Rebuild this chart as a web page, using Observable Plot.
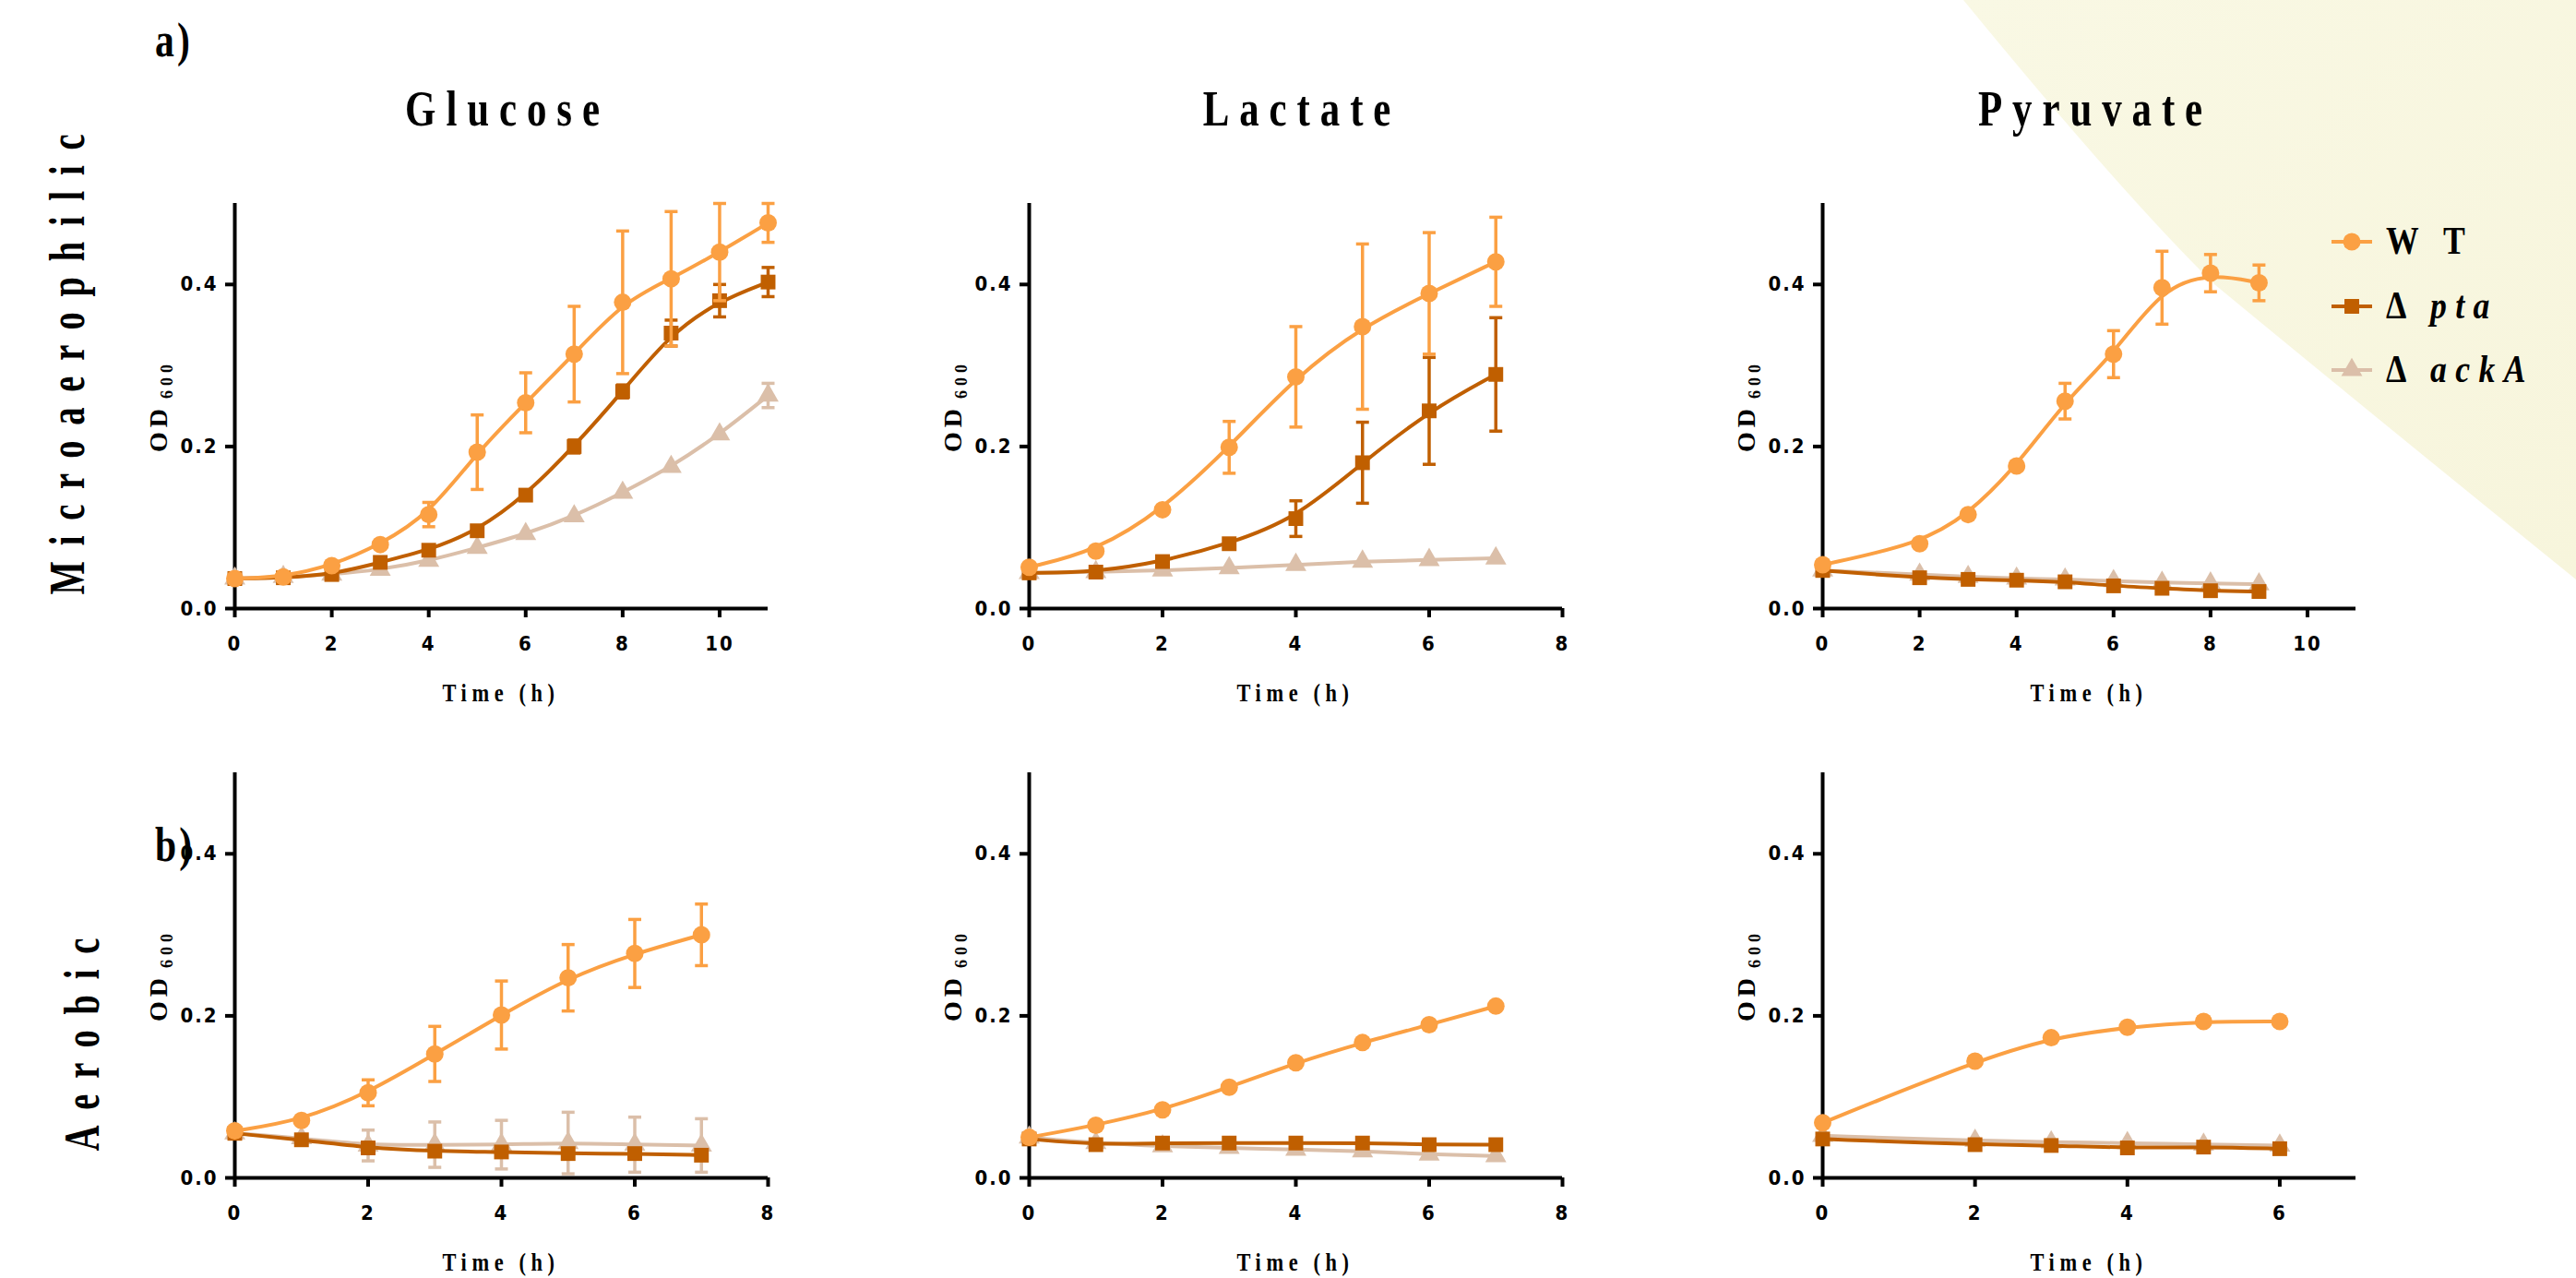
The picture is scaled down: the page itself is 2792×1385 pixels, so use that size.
<!DOCTYPE html>
<html>
<head>
<meta charset="utf-8">
<script src="https://cdn.jsdelivr.net/npm/d3@7"></script>
<script src="https://cdn.jsdelivr.net/npm/@observablehq/plot@0.6"></script>
<style>
html, body { margin: 0; padding: 0; background: #fff; }
#page { position: relative; width: 2792px; height: 1385px; overflow: hidden; background: #fff; }
.abs { position: absolute; white-space: nowrap; color: #000; }
.serif { font-family: "Liberation Serif", "Times New Roman", serif; font-weight: bold; }
</style>
</head>
<body>
<div id="page"></div>
<script>
// ---------------- DATA ----------------
const carbonSources = ["Glucose", "Lactate", "Pyruvate"];
const conditions = ["Microaerophilic", "Aerobic"];
const panelLetters = ["a)", "b)"];
const seriesKeys = ["WT", "pta", "ackA"];
const seriesColors = ["#fba043", "#c05f00", "#dbbfa9"];
const seriesSymbols = ["circle", "square", "triangle"];
const yTicks = [0, 0.2, 0.4];

// Microaerophilic - Glucose
const tGluMicro = [0, 1, 2, 3, 4, 5, 6, 7, 8, 9, 10, 11];
const wtGluMicro = [0.037, 0.039, 0.053, 0.079, 0.116, 0.193, 0.254, 0.314, 0.378, 0.407, 0.440, 0.476];
const wtGluMicroErr = [0, 0, 0, 0, 0.015, 0.046, 0.037, 0.059, 0.088, 0.083, 0.060, 0.024];
const ptaGluMicro = [0.037, 0.038, 0.042, 0.057, 0.072, 0.096, 0.140, 0.200, 0.268, 0.340, 0.380, 0.403];
const ptaGluMicroErr = [0, 0, 0, 0, 0, 0, 0, 0.008, 0.008, 0.016, 0.020, 0.018];
const ackGluMicro = [0.037, 0.039, 0.042, 0.048, 0.059, 0.075, 0.092, 0.114, 0.143, 0.175, 0.215, 0.263];
const ackGluMicroErr = [0, 0, 0, 0, 0, 0, 0, 0, 0, 0, 0, 0.015];

// Microaerophilic - Lactate
const tLacMicro = [0, 1, 2, 3, 4, 5, 6, 7];
const wtLacMicro = [0.051, 0.071, 0.122, 0.199, 0.286, 0.348, 0.389, 0.428];
const wtLacMicroErr = [0, 0, 0, 0.032, 0.062, 0.102, 0.075, 0.055];
const ptaLacMicro = [0.044, 0.045, 0.058, 0.080, 0.111, 0.180, 0.244, 0.289];
const ptaLacMicroErr = [0, 0, 0, 0, 0.022, 0.050, 0.066, 0.070];
const ackLacMicro = [0.044, 0.045, 0.047, 0.050, 0.054, 0.058, 0.060, 0.062];
const ackLacMicroErr = [0, 0, 0, 0, 0, 0, 0, 0];

// Microaerophilic - Pyruvate
const tPyrMicro = [0, 2, 3, 4, 5, 6, 7, 8, 9];
const wtPyrMicro = [0.054, 0.080, 0.116, 0.176, 0.256, 0.314, 0.396, 0.414, 0.402];
const wtPyrMicroErr = [0, 0, 0, 0, 0.022, 0.029, 0.045, 0.023, 0.022];
const ptaPyrMicro = [0.047, 0.038, 0.036, 0.035, 0.033, 0.028, 0.025, 0.022, 0.021];
const ptaPyrMicroErr = [0, 0, 0, 0, 0, 0, 0, 0, 0];
const ackPyrMicro = [0.047, 0.042, 0.039, 0.037, 0.036, 0.034, 0.032, 0.031, 0.030];
const ackPyrMicroErr = [0, 0, 0, 0, 0, 0, 0, 0, 0];

// Aerobic - Glucose
const tGluAer = [0, 1, 2, 3, 4, 5, 6, 7];
const wtGluAer = [0.058, 0.071, 0.105, 0.153, 0.201, 0.247, 0.277, 0.300];
const wtGluAerErr = [0, 0, 0.016, 0.034, 0.042, 0.041, 0.042, 0.038];
const ptaGluAer = [0.055, 0.047, 0.037, 0.033, 0.032, 0.030, 0.030, 0.028];
const ptaGluAerErr = [0, 0, 0, 0, 0, 0, 0, 0];
const ackGluAer = [0.055, 0.049, 0.040, 0.041, 0.041, 0.043, 0.041, 0.040];
const ackGluAerErr = [0, 0, 0.019, 0.028, 0.030, 0.038, 0.034, 0.033];

// Aerobic - Lactate
const tLacAer = [0, 1, 2, 3, 4, 5, 6, 7];
const wtLacAer = [0.050, 0.065, 0.084, 0.112, 0.142, 0.167, 0.189, 0.212];
const wtLacAerErr = [0, 0, 0, 0, 0, 0, 0, 0];
const ptaLacAer = [0.048, 0.041, 0.043, 0.043, 0.043, 0.043, 0.041, 0.041];
const ptaLacAerErr = [0, 0, 0, 0, 0, 0, 0, 0];
const ackLacAer = [0.050, 0.043, 0.039, 0.037, 0.035, 0.033, 0.029, 0.027];
const ackLacAerErr = [0, 0, 0, 0, 0, 0, 0, 0];

// Aerobic - Pyruvate
const tPyrAer = [0, 2, 3, 4, 5, 6];
const wtPyrAer = [0.068, 0.144, 0.173, 0.186, 0.193, 0.193];
const wtPyrAerErr = [0, 0, 0, 0, 0, 0];
const ptaPyrAer = [0.048, 0.041, 0.040, 0.037, 0.038, 0.036];
const ptaPyrAerErr = [0, 0, 0, 0, 0, 0];
const ackPyrAer = [0.052, 0.046, 0.044, 0.043, 0.041, 0.040];
const ackPyrAerErr = [0, 0, 0, 0, 0, 0];

const xMaxes = [[11, 8, 11], [8, 8, 7]];
const xTickSets = [[[0, 2, 4, 6, 8, 10], [0, 2, 4, 6, 8], [0, 2, 4, 6, 8, 10]],
                   [[0, 2, 4, 6, 8], [0, 2, 4, 6, 8], [0, 2, 4, 6]]];

const panels = [
  {row: 0, col: 0, t: tGluMicro, y: [wtGluMicro, ptaGluMicro, ackGluMicro], e: [wtGluMicroErr, ptaGluMicroErr, ackGluMicroErr]},
  {row: 0, col: 1, t: tLacMicro, y: [wtLacMicro, ptaLacMicro, ackLacMicro], e: [wtLacMicroErr, ptaLacMicroErr, ackLacMicroErr]},
  {row: 0, col: 2, t: tPyrMicro, y: [wtPyrMicro, ptaPyrMicro, ackPyrMicro], e: [wtPyrMicroErr, ptaPyrMicroErr, ackPyrMicroErr]},
  {row: 1, col: 0, t: tGluAer, y: [wtGluAer, ptaGluAer, ackGluAer], e: [wtGluAerErr, ptaGluAerErr, ackGluAerErr]},
  {row: 1, col: 1, t: tLacAer, y: [wtLacAer, ptaLacAer, ackLacAer], e: [wtLacAerErr, ptaLacAerErr, ackLacAerErr]},
  {row: 1, col: 2, t: tPyrAer, y: [wtPyrAer, ptaPyrAer, ackPyrAer], e: [wtPyrAerErr, ptaPyrAerErr, ackPyrAerErr]}
];

// ---------------- LAYOUT ----------------
const page = document.getElementById("page");
const colAxisX = [254, 1115, 1975];
const rowTop = [220, 837];
const plotW = 578, plotH = 439;
const mL = 110, mR = 30, mT = 12, mB = 60;
const symbolR = [9.5, 9, 8.5];
const tickFont = '"Liberation Sans Narrow", "DejaVu Sans Condensed", "Roboto Condensed", "Liberation Sans", Arial, sans-serif';

function addDiv(html, css, cls = "abs") {
  const d = document.createElement("div");
  d.className = cls;
  d.innerHTML = html;
  Object.assign(d.style, css);
  page.appendChild(d);
  return d;
}

// pale yellow background wedge (decoration)
const bg = document.createElementNS("http://www.w3.org/2000/svg", "svg");
bg.setAttribute("width", 2792); bg.setAttribute("height", 1385);
bg.style.position = "absolute"; bg.style.left = "0"; bg.style.top = "0";
bg.innerHTML = `<defs><linearGradient id="yg" x1="0" y1="0" x2="1" y2="1">
<stop offset="0" stop-color="#f9f8e4"/><stop offset="1" stop-color="#f7f5dc"/></linearGradient></defs>
<path d="M2128,0 L2792,0 L2792,628 Q2560,440 2400,308 Q2300,210 2128,0 Z" fill="url(#yg)"/>`;
page.appendChild(bg);

const capSymbol = {
  draw(ctx, size) { const w = Math.sqrt(size / Math.PI); ctx.moveTo(-w, 0); ctx.lineTo(w, 0); }
};

for (const p of panels) {
  const xMax = xMaxes[p.row][p.col];
  const xTicks = xTickSets[p.row][p.col];
  const marks = [];
  // draw order: ackA (bottom), pta, WT (top)
  for (const si of [2, 1, 0]) {
    const data = p.t.map((t, i) => ({t, y: p.y[si][i], e: p.e[si][i]}));
    const eb = data.filter(d => d.e > 0);
    const color = seriesColors[si];
    marks.push(Plot.line(data, {x: "t", y: "y", stroke: color, strokeWidth: 4, curve: "basis"}));
    marks.push(Plot.ruleX(eb, {x: "t", y1: d => d.y - d.e, y2: d => d.y + d.e, stroke: color, strokeWidth: 3.5}));
    marks.push(Plot.dot(eb, {x: "t", y: d => d.y + d.e, symbol: capSymbol, r: 7, stroke: color, strokeWidth: 3.5, fill: "none"}));
    marks.push(Plot.dot(eb, {x: "t", y: d => d.y - d.e, symbol: capSymbol, r: 7, stroke: color, strokeWidth: 3.5, fill: "none"}));
    marks.push(Plot.dot(data, {x: "t", y: "y", symbol: seriesSymbols[si], r: symbolR[si], fill: color, stroke: "none"}));
  }
  const chart = Plot.plot({
    width: mL + plotW + mR,
    height: mT + plotH + mB,
    marginLeft: mL, marginRight: mR, marginTop: mT, marginBottom: mB,
    x: {domain: [0, xMax]},
    y: {domain: [0, 0.5]},
    style: {fontFamily: tickFont, fontSize: "22px", fontWeight: "bold", letterSpacing: "2px", color: "#000", background: "transparent", overflow: "visible"},
    marks: [
      Plot.axisY({ticks: yTicks, tickFormat: d => d3.format(".1f")(d), tickSize: 10, tickPadding: 8, strokeWidth: 4, label: null}),
      Plot.axisX({ticks: xTicks, tickFormat: d => String(d), tickSize: 10, tickPadding: 20, strokeWidth: 4, label: null}),
      Plot.ruleX([0], {y1: 0, y2: 0.5, stroke: "#000", strokeWidth: 4}),
      Plot.ruleY([0], {x1: 0, x2: xMax, stroke: "#000", strokeWidth: 4}),
      ...marks
    ]
  });
  const wrap = document.createElement("div");
  wrap.className = "abs";
  wrap.style.left = (colAxisX[p.col] - mL) + "px";
  wrap.style.top = (rowTop[p.row] - mT) + "px";
  wrap.style.width = (mL + plotW + mR) + "px";
  wrap.appendChild(chart);
  page.appendChild(wrap);

  // axis titles
  const cx = colAxisX[p.col] + plotW / 2;
  const axisBottom = rowTop[p.row] + plotH;
  addDiv("Time (h)", {left: cx + "px", top: (axisBottom + 78) + "px", fontSize: "28px", lineHeight: "28px",
    letterSpacing: "7px", transform: "translateX(-50%) scaleX(0.8)"}, "abs serif");
  addDiv('OD<span style="font-size:18px;letter-spacing:5px;position:relative;top:6px;margin-left:6px">600</span>',
    {left: (colAxisX[p.col] - 81) + "px", top: (rowTop[p.row] + plotH / 2) + "px", fontSize: "28px", lineHeight: "28px",
     letterSpacing: "5px", transform: "translate(-50%,-50%) rotate(-90deg)"}, "abs serif");
}

// column titles
carbonSources.forEach((name, c) => {
  addDiv(name, {left: (colAxisX[c] + plotW / 2 + 7) + "px", top: "90px", fontSize: "55px", lineHeight: "55px",
    letterSpacing: "14px", transform: "translateX(-50%) scaleX(0.78)"}, "abs serif");
});

// row titles
const rowLabelX = [72, 88];
const rowLabelY = [395, 1132];
conditions.forEach((name, r) => {
  addDiv(name, {left: rowLabelX[r] + "px", top: rowLabelY[r] + "px", fontSize: "55px", lineHeight: "55px",
    letterSpacing: "24px", paddingLeft: "24px", transform: "translate(-50%,-50%) rotate(-90deg) scaleX(0.7)"}, "abs serif");
});

// panel letters
const letterTop = [18, 890];
panelLetters.forEach((L, r) => {
  addDiv(L, {left: "168px", top: letterTop[r] + "px", fontSize: "52px", lineHeight: "52px", letterSpacing: "4px",
    transform: "scaleX(0.8)", transformOrigin: "left top"}, "abs serif");
});

// legend
const legendY = [262, 332, 401];
seriesKeys.forEach((k, i) => {
  const area = Math.PI * symbolR[i] * symbolR[i];
  const sym = {circle: d3.symbolCircle, square: d3.symbolSquare, triangle: d3.symbolTriangle}[seriesSymbols[i]];
  const path = d3.symbol().type(sym).size(area)();
  const svg = `<svg width="46" height="24" style="position:absolute;left:0;top:0;overflow:visible">
    <line x1="1" x2="45" y1="12" y2="12" stroke="${seriesColors[i]}" stroke-width="4"/>
    <path transform="translate(23,12)" d="${path}" fill="${seriesColors[i]}"/></svg>`;
  addDiv(svg, {left: "2526px", top: (legendY[i] - 12) + "px", width: "46px", height: "24px"});
  const label = i === 0 ? "W T" : `Δ <i>${k}</i>`;
  addDiv(label, {left: "2586px", top: (legendY[i] - 22) + "px", fontSize: "42px", lineHeight: "42px",
    letterSpacing: "11px", transform: "scaleX(0.85)", transformOrigin: "left center"}, "abs serif");
});
</script>
</body>
</html>
